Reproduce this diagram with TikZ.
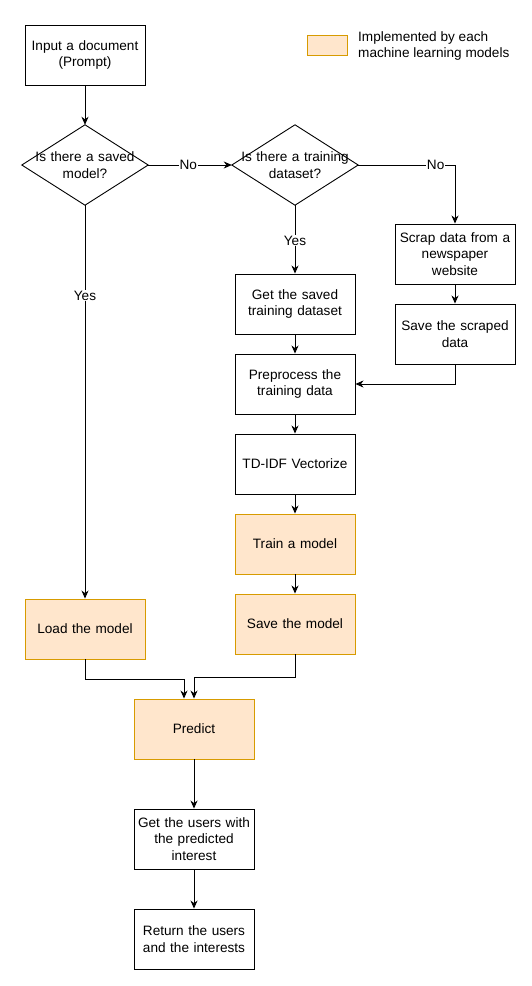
\documentclass[tikz,border=0pt]{standalone}
\usepackage{fontspec}
\setmainfont{Liberation Sans}
\usetikzlibrary{arrows.meta,calc}
\definecolor{ofill}{HTML}{FFE6CC}
\definecolor{odraw}{HTML}{D79B00}
\begin{document}
\begin{tikzpicture}[x=1pt,y=-1pt,
  every node/.style={font=\fontsize{13.6}{16.5}\selectfont},
  box/.style={draw, line width=0.9pt, minimum width=120pt, minimum height=60pt, text width=116pt, align=center, inner sep=0pt},
  obox/.style={box, draw=odraw, fill=ofill},
  dia/.style={minimum width=120pt, minimum height=80pt, text width=126pt, align=center, inner sep=0pt},
  conn/.style={line width=0.9pt, -{Stealth[length=8pt,width=7pt,inset=2.5pt]}},
  lbl/.style={fill=white, inner sep=1pt}]
\useasboundingbox (0,0) rectangle (532,986);
\node[box] (in) at (85,55) {Input a document\\(Prompt)};
\node[dia] (d1) at (85,165) {Is there a saved\\model?};
\draw[line width=0.9pt] (d1.north) -- (d1.east) -- (d1.south) -- (d1.west) -- cycle;
\node[dia] (d2) at (295,165) {Is there a training\\dataset?};
\draw[line width=0.9pt] (d2.north) -- (d2.east) -- (d2.south) -- (d2.west) -- cycle;
\node[box] (scrap) at (455,254) {Scrap data from a\\newspaper\\website};
\node[box] (savescr) at (455,334) {Save the scraped\\data};
\node[box] (getds) at (295,304) {Get the saved\\training dataset};
\node[box] (pre) at (295,384) {Preprocess the\\training data};
\node[box] (tdidf) at (295,464) {TD-IDF Vectorize};
\node[obox] (train) at (295,544) {Train a model};
\node[obox] (savem) at (295,624) {Save the model};
\node[obox] (load) at (85,629) {Load the model};
\node[obox] (pred) at (194,729) {Predict};
\node[box] (users) at (194,839) {Get the users with\\the predicted\\interest};
\node[box] (ret) at (194,939) {Return the users\\and the interests};
\node[draw=odraw, fill=ofill, line width=0.9pt, minimum width=40pt, minimum height=20pt, inner sep=0pt] (leg) at (327,45) {};
\node[anchor=west, align=left, inner sep=0pt] (legt) at (358,46) {Implemented by each\\machine learning models};
\coordinate (c1) at (455,165);
\coordinate (c2) at (85,679);
\coordinate (c3) at (295,677);
\draw[conn] (in) -- (d1.north);
\draw[conn] (d1.east) -- node[lbl, pos=0.48] {No} (d2.west);
\draw[conn] (d2.east) -- node[lbl, pos=0.8] {No} (c1) -- (scrap.north);
\draw[conn] (d2.south) -- node[lbl, pos=0.52] {Yes} (getds.north);
\draw[conn] (d1.south) -- node[lbl, pos=0.23] {Yes} (load.north);
\draw[conn] (scrap) -- (savescr);
\draw[conn] (savescr.south) |- (pre.east);
\draw[conn] (getds) -- (pre);
\draw[conn] (pre) -- (tdidf);
\draw[conn] (tdidf) -- (train);
\draw[conn] (train) -- (savem);
\draw[conn] (load.south) -- (c2) -| ($(pred.north)+(-10,0)$);
\draw[conn] (savem.south) -- (c3) -| (pred.north);
\draw[conn] (pred) -- (users);
\draw[conn] (users) -- (ret);
\end{tikzpicture}
\end{document}
